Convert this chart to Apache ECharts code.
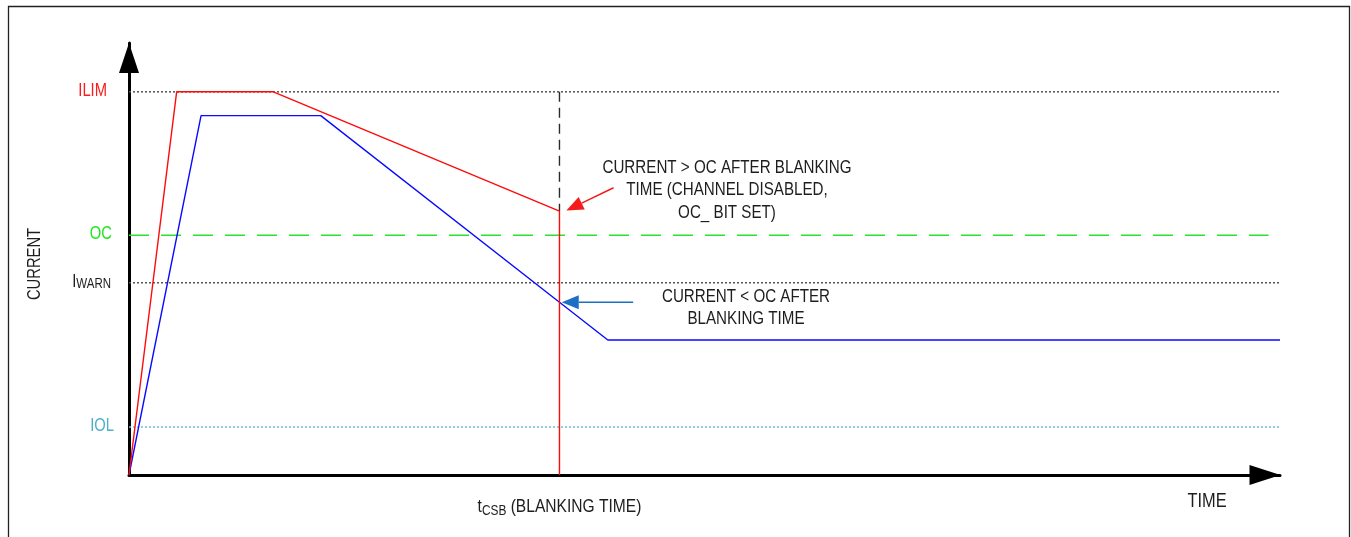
<!DOCTYPE html>
<html>
<head>
<meta charset="utf-8">
<script src="https://cdn.jsdelivr.net/npm/echarts@6/dist/echarts.min.js"></script>
<style>
html,body{margin:0;padding:0;background:#fff;}
#c{width:1351px;height:537px;}
</style>
</head>
<body>
<div id="c"></div>
<script>
// ---- data (schematic units: time 0..100, current 0..100) ----
const levelNames  = ['ILIM', 'OC', 'IWARN', 'IOL'];
const levelValues = [88.7, 55.5, 44.5, 11.1];
const levelEnds   = [100, 99, 100, 100];

const redTime    = [0, 4.14, 12.54, 37.4, 37.4];
const redCurrent = [0, 88.7, 88.7, 61.1, 0];

const blueTime    = [0, 6.26, 16.66, 37.4, 41.6, 100];
const blueCurrent = [0, 83.2, 83.2, 40.0, 31.25, 31.25];

const blankingTime = 37.4;
const blankingMarkerCurrent = [88.7, 61.1];

const redArrow  = [42.1, 66.5, 38.0, 61.2];
const blueArrow = [43.8, 40.0, 37.6, 40.0];

const redNote  = 'CURRENT > OC AFTER BLANKING\nTIME (CHANNEL DISABLED,\nOC_ BIT SET)';
const blueNote = 'CURRENT < OC AFTER\nBLANKING TIME';
const yTitle = 'CURRENT';
const xTitle = 'TIME';

// ---- styles ----
const FONT = "'Liberation Sans',Arial,sans-serif";
const NARROW = 0.82;
const TXT = '#1e1e1e';
const levelStyles = [
  {color:'#555555', type:[2,2], width:1.5},
  {color:'#2ee02e', type:[20,12], width:1.3},
  {color:'#555555', type:[2,2], width:1.5},
  {color:'#6dbdd2', type:[2,2], width:1.5}
];
const levelLabelRight = [107, 112, 111, 114];
const levelRich = {
  ilim:{fontSize:18, fill:'#ff1a1a', fontFamily:FONT},
  oc:{fontSize:18, fill:'#1ee61e', fontFamily:FONT},
  iw:{fontSize:18, fill:TXT, fontFamily:FONT, verticalAlign:'bottom'},
  iws:{fontSize:14, fill:TXT, fontFamily:FONT, verticalAlign:'bottom'},
  iol:{fontSize:18, fill:'#4fb0c8', fontFamily:FONT}
};
const labelKeys = ['ilim','oc','iw','iol'];

const zip = (a, b) => a.map((v, i) => [v, b[i]]);

const chart = echarts.init(document.getElementById('c'), null, {renderer:'canvas'});

const series = [];
levelValues.forEach((v, i) => {
  series.push({
    type:'line', silent:true, symbol:'none', z:1,
    data:[[0, v], [levelEnds[i], v]],
    lineStyle:levelStyles[i]
  });
});
series.push({
  type:'line', silent:true, symbol:'none', z:1,
  data:[[blankingTime, blankingMarkerCurrent[0]], [blankingTime, blankingMarkerCurrent[1]]],
  lineStyle:{color:'#2a2a2a', type:[10,6], width:1.4}
});
series.push({
  type:'line', silent:true, symbol:'none', z:3,
  data:zip(blueTime, blueCurrent),
  lineStyle:{color:'#0a0aff', width:1.4}
});
series.push({
  type:'line', silent:true, symbol:'none', z:4,
  data:zip(redTime, redCurrent),
  lineStyle:{color:'#ff0a0a', width:1.4}
});

function arrowItem(color) {
  return function (params, api) {
    const p1 = api.coord([api.value(0), api.value(1)]);
    const p2 = api.coord([api.value(2), api.value(3)]);
    const dx = p2[0]-p1[0], dy = p2[1]-p1[1];
    const len = Math.sqrt(dx*dx+dy*dy);
    const ux = dx/len, uy = dy/len;
    const L = 17, hw = 7;
    const bx = p2[0]-ux*L, by = p2[1]-uy*L;
    return {
      type:'group',
      children:[
        {type:'line', shape:{x1:p1[0], y1:p1[1], x2:bx, y2:by}, style:{stroke:color, lineWidth:1.5}},
        {type:'polygon', shape:{points:[[p2[0],p2[1]],[bx-uy*hw, by+ux*hw],[bx+uy*hw, by-ux*hw]]}, style:{fill:color}}
      ]
    };
  };
}
series.push({type:'custom', silent:true, z:6, clip:false, renderItem:arrowItem('#f51b1b'),
  encode:{x:[0,2], y:[1,3]}, data:[redArrow]});
series.push({type:'custom', silent:true, z:6, clip:false, renderItem:arrowItem('#1c6fc2'),
  encode:{x:[0,2], y:[1,3]}, data:[blueArrow]});

const option = {
  animation:false,
  backgroundColor:'#ffffff',
  textStyle:{fontFamily:FONT},
  grid:{left:129, right:71, top:43, bottom:62, containLabel:false, outerBoundsMode:'none'},
  xAxis:{
    type:'value', min:0, max:100,
    splitLine:{show:false}, axisTick:{show:false}, axisLabel:{show:false},
    axisLine:{show:true, onZero:true, symbol:['none','triangle'], symbolSize:[20,31], symbolOffset:[0,-15],
      lineStyle:{color:'#000', width:3}}
  },
  yAxis:{
    type:'value', min:0, max:100,
    splitLine:{show:false}, axisTick:{show:false}, axisLabel:{show:false},
    axisLine:{show:true, onZero:false, symbol:['none','triangle'], symbolSize:[20,30], symbolOffset:[0,-15],
      lineStyle:{color:'#000', width:3}}
  },
  series:series
};
chart.setOption(option);

// ---- text placed via the chart's own scales ----
function txt(x, y, text, size, extra) {
  return Object.assign({
    type:'text', silent:true, x:x, y:y, scaleX:NARROW, z:10,
    style:Object.assign({text:text, font:size + 'px ' + FONT, fill:TXT, textAlign:'center', textVerticalAlign:'middle'}, extra && extra.style)
  }, extra && extra.el);
}
const graphics = [
  {type:'rect', silent:true, shape:{x:8.5, y:6.5, width:1341, height:600},
    style:{fill:'none', stroke:'#222', lineWidth:1.3}}
];
levelValues.forEach((v, i) => {
  const py = chart.convertToPixel({gridIndex:0}, [0, v])[1];
  const t = levelNames[i] === 'IWARN' ? '{iw|I}{iws|WARN}' : '{' + labelKeys[i] + '|' + levelNames[i] + '}';
  graphics.push({
    type:'text', silent:true, x:levelLabelRight[i], y:py - 1, scaleX:NARROW, z:10,
    style:{text:t, rich:levelRich, textAlign:'right', textVerticalAlign:'middle', font:'18px ' + FONT}
  });
});
const yMid = chart.convertToPixel({gridIndex:0}, [0, 50])[1];
graphics.push(Object.assign(txt(35, yMid + 5, yTitle, 18), {rotation:Math.PI/2}));
graphics.push(txt(1207, 501, xTitle, 20));
const bx = chart.convertToPixel({gridIndex:0}, [blankingTime, 0]);
graphics.push({
  type:'text', silent:true, x:bx[0], y:bx[1] + 32, scaleX:NARROW, z:10,
  style:{text:'{t|t}{s|CSB}{t| (BLANKING TIME)}', textAlign:'center', textVerticalAlign:'middle',
    font:'19px ' + FONT,
    rich:{
      t:{fontSize:19, fill:TXT, fontFamily:FONT, verticalAlign:'bottom'},
      s:{fontSize:14.5, fill:TXT, fontFamily:FONT, verticalAlign:'bottom', padding:[0,0,-2,0]}
    }}
});
graphics.push(txt(727, 190, redNote, 18.5, {style:{lineHeight:22.5}}));
graphics.push(txt(746, 308, blueNote, 18.5, {style:{lineHeight:21.7}}));

chart.setOption({graphic:graphics});
</script>
</body>
</html>
